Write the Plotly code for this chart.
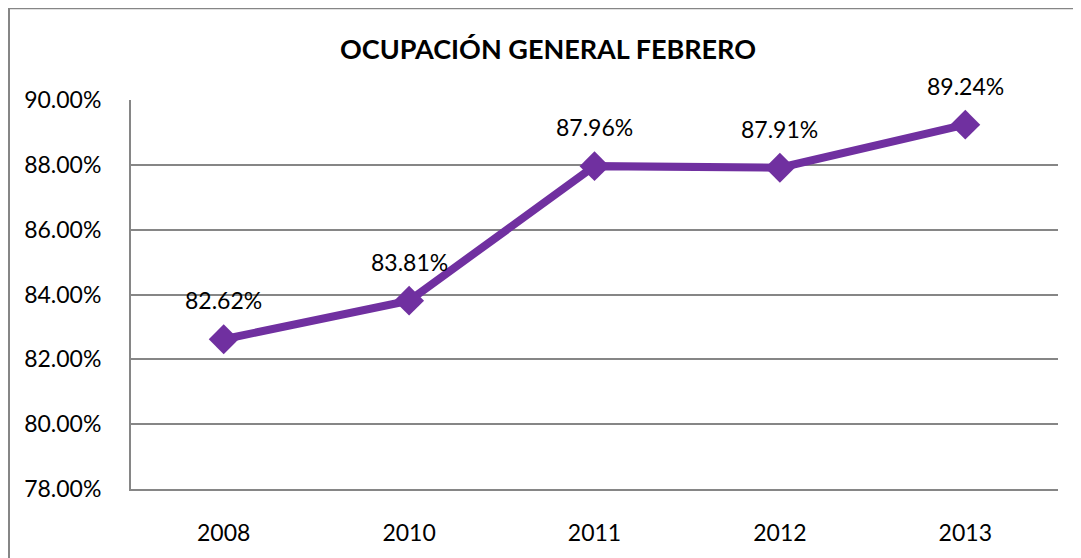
import plotly.graph_objects as go

years = ["2008", "2010", "2011", "2012", "2013"]
ocupacion = [82.62, 83.81, 87.96, 87.91, 89.24]
y_ticks = [78, 80, 82, 84, 86, 88, 90]
y_tick_labels = ["78.00%", "80.00%", "82.00%", "84.00%", "86.00%", "88.00%", "90.00%"]
title_text = "OCUPACIÓN GENERAL FEBRERO"

OFF = 8  # default body margin of the page
W, H = 1081 - OFF, 558 - OFF
# target positions in page pixels
PL, PR, PT, PB = 131, 1058, 100, 494
L, T = PL - OFF, PT - OFF
R = W - (PR - OFF)
B = H - (PB - OFF)
pw, ph = W - L - R, H - T - B

FONT = "Lato, Carlito, Calibri, sans-serif"
PURPLE = "#7030A0"
GRAY = "#868686"
FS = 23

def px_x(p):
    return (p - PL) / pw

def px_y(p):
    return (PB - p) / ph

fig = go.Figure()
fig.add_trace(go.Scatter(
    x=years, y=ocupacion, mode="lines+markers",
    line=dict(color=PURPLE, width=8),
    marker=dict(symbol="diamond", size=23, color=PURPLE),
    hoverinfo="skip", showlegend=False,
))

for i, y in enumerate(ocupacion):
    fig.add_annotation(x=i, y=y, text=f"{y:.2f}%", showarrow=False,
                       yshift=39, font=dict(family=FONT, size=FS, color="#000"))

fig.add_annotation(xref="paper", yref="paper", x=px_x(548), y=px_y(48),
                   text=f"<b>{title_text}</b>", showarrow=False,
                   font=dict(family=FONT, size=27, color="#000"),
                   xanchor="center", yanchor="middle")

fig.add_shape(type="rect", xref="paper", yref="paper",
              x0=px_x(9), x1=px_x(1100),
              y0=px_y(580), y1=px_y(7),
              line=dict(color=GRAY, width=2), fillcolor="rgba(0,0,0,0)", layer="below")

fig.update_layout(
    width=W, height=H,
    margin=dict(l=L, r=R, t=T, b=B),
    paper_bgcolor="white", plot_bgcolor="white",
    font=dict(family=FONT, size=FS, color="#000"),
    xaxis=dict(type="category", range=[-0.5, 4.5], showgrid=False,
               showline=True, linecolor=GRAY, linewidth=2,
               ticks="", ticklabelstandoff=22, tickfont=dict(size=FS)),
    yaxis=dict(range=[78, 90], tickvals=y_ticks, ticktext=y_tick_labels,
               showgrid=True, gridcolor=GRAY, gridwidth=1.5,
               showline=True, linecolor=GRAY, linewidth=2,
               zeroline=False, ticks="", ticklabelstandoff=23, tickfont=dict(size=FS)),
)

fig.write_html("out.html")
